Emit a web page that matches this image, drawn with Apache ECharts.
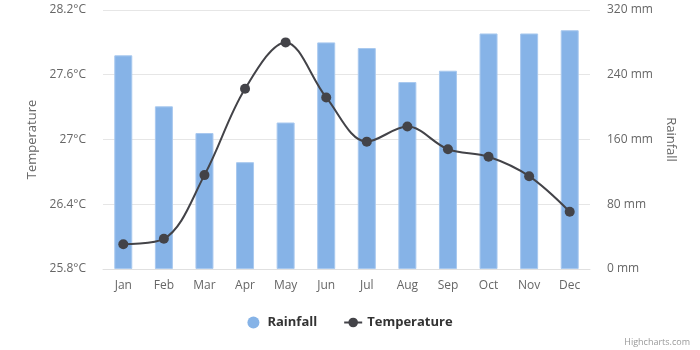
<!DOCTYPE html>
<html>
<head>
<meta charset="utf-8">
<script src="https://cdn.jsdelivr.net/npm/echarts@6/dist/echarts.min.js"></script>
<style>
  html, body { margin: 0; padding: 0; background: #fff; }
  #chart { width: 700px; height: 350px; }
</style>
</head>
<body>
<div id="chart"></div>
<script>
// data
const months = ['Jan', 'Feb', 'Mar', 'Apr', 'May', 'Jun', 'Jul', 'Aug', 'Sep', 'Oct', 'Nov', 'Dec'];
const rainfall = [264, 201, 168, 132, 181, 280, 273, 231, 245, 291, 291, 295];
const temperature = [26.03, 26.08, 26.67, 27.47, 27.9, 27.39, 26.98, 27.12, 26.91, 26.84, 26.66, 26.33];

const font = '"Open Sans", "Noto Sans", sans-serif';

const myChart = echarts.init(document.getElementById('chart'));

myChart.setOption({
  animation: false,
  textStyle: { fontFamily: font },
  grid: { left: 103, right: 110, top: 10, bottom: 81 },
  legend: {
    bottom: 16,
    left: 'center',
    itemGap: 26,
    itemWidth: 18,
    itemHeight: 12,
    textStyle: { fontFamily: font, fontSize: 13, fontWeight: 'bold', color: '#333' },
    data: [
      { name: 'Rainfall', icon: 'circle', itemStyle: { borderWidth: 0 } },
      { name: 'Temperature' }
    ]
  },
  xAxis: {
    type: 'category',
    data: months,
    axisTick: { show: false },
    axisLine: { lineStyle: { color: '#e0e0e0' } },
    axisLabel: { color: '#666', fontSize: 12, margin: 11 }
  },
  yAxis: [
    {
      type: 'value',
      min: 25.8,
      max: 28.2,
      interval: 0.6,
      position: 'left',
      name: 'Temperature',
      nameLocation: 'middle',
      nameGap: 60,
      nameTextStyle: { color: '#666', fontSize: 13 },
      axisLabel: {
        color: '#666',
        fontSize: 12,
        margin: 17,
        formatter: v => (Math.round(v * 10) / 10) + '°C'
      },
      splitLine: { lineStyle: { color: '#e6e6e6' } }
    },
    {
      type: 'value',
      min: 0,
      max: 320,
      interval: 80,
      position: 'right',
      name: 'Rainfall',
      nameLocation: 'middle',
      nameGap: 72,
      nameRotate: -90,
      nameTextStyle: { color: '#666', fontSize: 13 },
      axisLabel: { color: '#666', fontSize: 12, margin: 17, formatter: '{value} mm' },
      splitLine: { show: false }
    }
  ],
  series: [
    {
      name: 'Rainfall',
      type: 'bar',
      yAxisIndex: 1,
      barWidth: 18,
      data: rainfall,
      itemStyle: { color: '#86b3e7', borderColor: '#a9c9ef', borderWidth: 1 }
    },
    {
      name: 'Temperature',
      type: 'line',
      yAxisIndex: 0,
      data: temperature,
      smooth: 0.35,
      symbol: 'circle',
      symbolSize: 10,
      lineStyle: { color: '#434348', width: 2 },
      itemStyle: { color: '#434348' }
    }
  ],
  graphic: [
    {
      type: 'text',
      right: 10,
      bottom: 3,
      style: { text: 'Highcharts.com', fill: '#999', fontSize: 9, fontFamily: font }
    }
  ]
});

window.addEventListener('resize', () => {
  myChart.resize();
});
</script>
</body>
</html>
